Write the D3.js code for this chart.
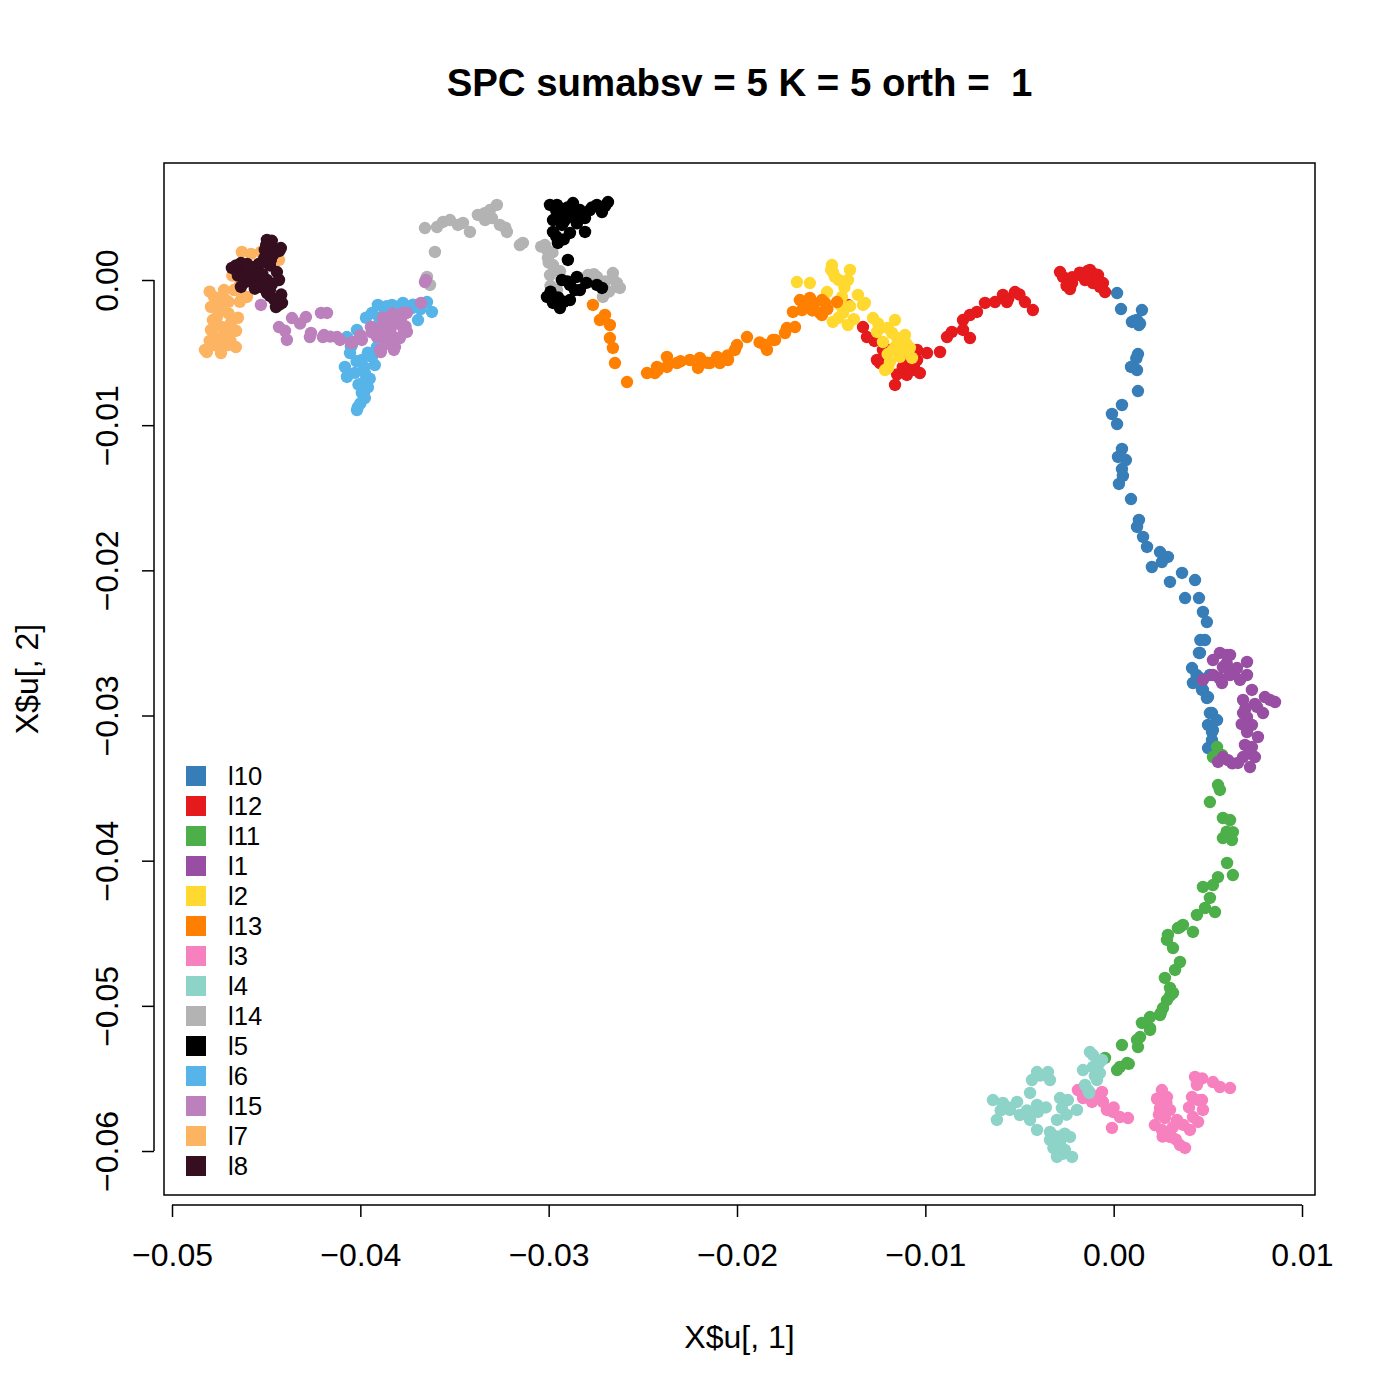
<!DOCTYPE html>
<html><head><meta charset="utf-8">
<script src="https://cdn.jsdelivr.net/npm/d3@7"></script>
<style>body{margin:0;background:#fff}text{font-family:"Liberation Sans",Arial,sans-serif;white-space:pre}</style>
</head><body><svg id="c" width="1400" height="1400"></svg>
<script>
const title = "SPC sumabsv = 5 K = 5 orth =  1";
const xLabel = "X$u[, 1]", yLabel = "X$u[, 2]";
const xTicks = [-0.05,-0.04,-0.03,-0.02,-0.01,0.00,0.01];
const yTicks = [0.00,-0.01,-0.02,-0.03,-0.04,-0.05,-0.06];
const legendNames = ["l10","l12","l11","l1","l2","l13","l3","l4","l14","l5","l6","l15","l7","l8"];
const legendColors = ["#377EB8","#E41A1C","#4DAF4A","#984EA3","#FFD92F","#FF7F00","#F781BF","#8DD3C7","#B3B3B3","#000000","#56B4E9","#BC80BD","#FDB462","#350F20"];

const l10 = [[0.00018,-0.00090],[0.00039,-0.00200],[0.00150,-0.00207],[0.00097,-0.00289],[0.00134,-0.00310],[0.00124,-0.00276],[0.00110,-0.00280],[0.00140,-0.00300],[0.00129,-0.00510],[0.00120,-0.00540],[0.00092,-0.00599],[0.00124,-0.00620],[0.00129,-0.00765],[0.00044,-0.00861],[-0.00009,-0.00923],[0.00018,-0.00992],[0.00044,-0.01164],[0.00023,-0.01219],[0.00065,-0.01240],[0.00044,-0.01302],[0.00049,-0.01350],[0.00028,-0.01405],[0.00092,-0.01509],[0.00134,-0.01653],[0.00124,-0.01701],[0.00156,-0.01770],[0.00177,-0.01839],[0.00203,-0.01977],[0.00288,-0.01908],[0.00256,-0.01943],[0.00246,-0.01874],[0.00299,-0.02080],[0.00363,-0.02018],[0.00432,-0.02067],[0.00379,-0.02191],[0.00453,-0.02191],[0.00474,-0.02287],[0.00495,-0.02356],[0.00485,-0.02480],[0.00460,-0.02480],[0.00453,-0.02569],[0.00458,-0.02569],[0.00416,-0.02673],[0.00421,-0.02776],[0.00440,-0.02720],[0.00458,-0.02742],[0.00511,-0.02721],[0.00474,-0.02824],[0.00469,-0.02824],[0.00495,-0.02880],[0.00501,-0.02873],[0.00522,-0.02983],[0.00511,-0.02983],[0.00501,-0.03065],[0.00549,-0.03031],[0.00527,-0.03100],[0.00522,-0.03114],[0.00522,-0.03169],[0.00501,-0.03224],[0.00522,-0.03217]];
const l12 = [[-0.00269,0.00021],[-0.00232,-0.00062],[-0.00179,0.00034],[-0.00180,0.00050],[-0.00140,0.00060],[-0.00100,0.00040],[-0.00220,0.00020],[-0.00250,-0.00040],[-0.00126,0.00069],[-0.00083,0.00034],[-0.00057,-0.00021],[-0.00046,-0.00083],[-0.00110,-0.00021],[-0.00152,0.00000],[-0.00221,-0.00021],[-0.00285,0.00055],[-0.00073,-0.00048],[-0.00429,-0.00207],[-0.00471,-0.00152],[-0.00500,-0.00100],[-0.00560,-0.00130],[-0.00524,-0.00083],[-0.00588,-0.00103],[-0.00630,-0.00152],[-0.00567,-0.00152],[-0.00683,-0.00158],[-0.00726,-0.00220],[-0.00800,-0.00276],[-0.00763,-0.00241],[-0.00859,-0.00358],[-0.00885,-0.00393],[-0.00763,-0.00400],[-0.00800,-0.00344],[-0.00922,-0.00496],[-0.00991,-0.00503],[-0.01044,-0.00482],[-0.01055,-0.00620],[-0.01098,-0.00654],[-0.01150,-0.00650],[-0.01120,-0.00600],[-0.01060,-0.00580],[-0.01161,-0.00723],[-0.01098,-0.00572],[-0.01241,-0.00572],[-0.01225,-0.00482],[-0.01200,-0.00480],[-0.01270,-0.00420],[-0.01310,-0.00393],[-0.01331,-0.00324],[-0.01411,-0.00172],[-0.01044,-0.00551],[-0.01029,-0.00641],[-0.01257,-0.00551]];
const l11 = [[0.00549,-0.03217],[0.00549,-0.03293],[0.00527,-0.03286],[0.00575,-0.03272],[0.00554,-0.03479],[0.00564,-0.03513],[0.00511,-0.03596],[0.00580,-0.03706],[0.00618,-0.03720],[0.00633,-0.03803],[0.00600,-0.03800],[0.00580,-0.03844],[0.00628,-0.03858],[0.00602,-0.04016],[0.00633,-0.04099],[0.00554,-0.04113],[0.00527,-0.04168],[0.00474,-0.04181],[0.00511,-0.04257],[0.00442,-0.04374],[0.00485,-0.04326],[0.00538,-0.04354],[0.00368,-0.04443],[0.00350,-0.04460],[0.00341,-0.04464],[0.00288,-0.04512],[0.00315,-0.04602],[0.00283,-0.04546],[0.00421,-0.04491],[0.00352,-0.04698],[0.00326,-0.04753],[0.00272,-0.04808],[0.00299,-0.04877],[0.00300,-0.04930],[0.00315,-0.04911],[0.00283,-0.04960],[0.00262,-0.05015],[0.00250,-0.05050],[0.00246,-0.05063],[0.00193,-0.05077],[0.00150,-0.05118],[0.00193,-0.05153],[0.00193,-0.05166],[0.00140,-0.05215],[0.00124,-0.05235],[0.00129,-0.05284],[0.00044,-0.05270],[0.00071,-0.05394],[0.00080,-0.05400],[0.00033,-0.05421],[0.00018,-0.05442],[-0.00046,-0.05359]];
const l1 = [[0.00564,-0.02569],[0.00618,-0.02583],[0.00602,-0.02583],[0.00527,-0.02618],[0.00600,-0.02640],[0.00580,-0.02666],[0.00708,-0.02631],[0.00655,-0.02673],[0.00640,-0.02700],[0.00527,-0.02721],[0.00618,-0.02721],[0.00708,-0.02721],[0.00560,-0.02740],[0.00575,-0.02776],[0.00474,-0.02755],[0.00671,-0.02755],[0.00734,-0.02824],[0.00687,-0.02893],[0.00687,-0.02983],[0.00750,-0.02920],[0.00700,-0.02950],[0.00761,-0.02941],[0.00830,-0.02893],[0.00857,-0.02907],[0.00803,-0.02873],[0.00793,-0.02983],[0.00708,-0.03011],[0.00680,-0.03060],[0.00734,-0.03065],[0.00708,-0.03114],[0.00766,-0.03148],[0.00734,-0.03217],[0.00697,-0.03203],[0.00720,-0.03260],[0.00750,-0.03286],[0.00687,-0.03286],[0.00660,-0.03327],[0.00630,-0.03330],[0.00724,-0.03355],[0.00580,-0.03286],[0.00554,-0.03320],[0.00607,-0.03307]];
const l2 = [[-0.01682,-0.00014],[-0.01613,-0.00021],[-0.01496,0.00103],[-0.01500,0.00070],[-0.01480,0.00021],[-0.01460,0.00000],[-0.01411,0.00000],[-0.01400,0.00069],[-0.01491,0.00055],[-0.01522,-0.00083],[-0.01430,-0.00050],[-0.01443,-0.00117],[-0.01358,-0.00103],[-0.01331,-0.00172],[-0.01321,-0.00158],[-0.01400,-0.00180],[-0.01453,-0.00172],[-0.01491,-0.00289],[-0.01460,-0.00260],[-0.01411,-0.00310],[-0.01380,-0.00270],[-0.01437,-0.00227],[-0.01278,-0.00262],[-0.01250,-0.00300],[-0.01161,-0.00276],[-0.01241,-0.00331],[-0.01200,-0.00330],[-0.01257,-0.00358],[-0.01177,-0.00365],[-0.01150,-0.00400],[-0.01225,-0.00427],[-0.01135,-0.00427],[-0.01130,-0.00470],[-0.01082,-0.00468],[-0.01100,-0.00440],[-0.01108,-0.00379],[-0.01071,-0.00537],[-0.01135,-0.00530],[-0.01160,-0.00460],[-0.01140,-0.00500],[-0.01200,-0.00510],[-0.01198,-0.00606],[-0.01188,-0.00565],[-0.01172,-0.00482],[-0.01108,-0.00496],[-0.01214,-0.00620]];
const l13 = [[-0.02765,-0.00172],[-0.02701,-0.00241],[-0.02728,-0.00276],[-0.02675,-0.00310],[-0.02675,-0.00400],[-0.02659,-0.00468],[-0.02648,-0.00572],[-0.02584,-0.00703],[-0.02478,-0.00641],[-0.02436,-0.00641],[-0.02420,-0.00620],[-0.02425,-0.00599],[-0.02372,-0.00530],[-0.02372,-0.00599],[-0.02319,-0.00572],[-0.02300,-0.00560],[-0.02250,-0.00551],[-0.02197,-0.00537],[-0.02207,-0.00606],[-0.02160,-0.00570],[-0.02144,-0.00572],[-0.02106,-0.00530],[-0.02091,-0.00572],[-0.02050,-0.00520],[-0.02048,-0.00551],[-0.02011,-0.00482],[-0.02000,-0.00448],[-0.01947,-0.00393],[-0.01880,-0.00430],[-0.01852,-0.00448],[-0.01841,-0.00482],[-0.01809,-0.00413],[-0.01798,-0.00413],[-0.01745,-0.00365],[-0.01735,-0.00331],[-0.01692,-0.00324],[-0.01703,-0.00220],[-0.01655,-0.00207],[-0.01640,-0.00180],[-0.01666,-0.00138],[-0.01629,-0.00158],[-0.01613,-0.00124],[-0.01590,-0.00160],[-0.01600,-0.00210],[-0.01560,-0.00227],[-0.01549,-0.00138],[-0.01549,-0.00241],[-0.01520,-0.00200],[-0.01533,-0.00158],[-0.01469,-0.00152]];
const l3 = [[-0.00190,-0.05580],[-0.00163,-0.05635],[-0.00126,-0.05600],[-0.00062,-0.05593],[-0.00115,-0.05662],[-0.00080,-0.05640],[-0.00057,-0.05662],[-0.00036,-0.05717],[0.00000,-0.05700],[-0.00004,-0.05731],[0.00033,-0.05766],[0.00076,-0.05773],[-0.00009,-0.05841],[0.00256,-0.05580],[0.00283,-0.05628],[0.00230,-0.05640],[0.00280,-0.05670],[0.00246,-0.05704],[0.00240,-0.05750],[0.00299,-0.05717],[0.00272,-0.05773],[0.00336,-0.05786],[0.00219,-0.05821],[0.00256,-0.05855],[0.00315,-0.05835],[0.00300,-0.05880],[0.00260,-0.05900],[0.00330,-0.05920],[0.00299,-0.05903],[0.00352,-0.05959],[0.00379,-0.05979],[0.00370,-0.05820],[0.00405,-0.05855],[0.00448,-0.05800],[0.00421,-0.05766],[0.00400,-0.05700],[0.00474,-0.05717],[0.00469,-0.05649],[0.00450,-0.05650],[0.00416,-0.05628],[0.00442,-0.05545],[0.00432,-0.05490],[0.00470,-0.05500],[0.00527,-0.05525],[0.00564,-0.05559],[0.00618,-0.05566]];
const l4 = [[-0.00110,-0.05339],[-0.00126,-0.05318],[-0.00080,-0.05400],[-0.00062,-0.05373],[-0.00110,-0.05421],[-0.00100,-0.05480],[-0.00073,-0.05463],[-0.00163,-0.05442],[-0.00089,-0.05511],[-0.00152,-0.05545],[-0.00130,-0.05600],[-0.00136,-0.05580],[-0.00407,-0.05456],[-0.00390,-0.05480],[-0.00349,-0.05456],[-0.00365,-0.05476],[-0.00338,-0.05511],[-0.00434,-0.05511],[-0.00444,-0.05600],[-0.00641,-0.05649],[-0.00600,-0.05720],[-0.00588,-0.05669],[-0.00560,-0.05700],[-0.00513,-0.05662],[-0.00551,-0.05717],[-0.00620,-0.05786],[-0.00498,-0.05752],[-0.00460,-0.05720],[-0.00407,-0.05683],[-0.00360,-0.05700],[-0.00402,-0.05731],[-0.00444,-0.05786],[-0.00407,-0.05855],[-0.00338,-0.05869],[-0.00285,-0.05635],[-0.00243,-0.05649],[-0.00275,-0.05704],[-0.00250,-0.05750],[-0.00195,-0.05717],[-0.00301,-0.05786],[-0.00300,-0.05900],[-0.00260,-0.05880],[-0.00338,-0.05924],[-0.00320,-0.05980],[-0.00285,-0.05945],[-0.00232,-0.05903],[-0.00270,-0.06020],[-0.00301,-0.06041],[-0.00221,-0.06041],[-0.00259,-0.05993]];
const l14 = [[-0.03657,0.00358],[-0.03593,0.00365],[-0.03561,0.00400],[-0.03524,0.00413],[-0.03482,0.00379],[-0.03455,0.00393],[-0.03418,0.00331],[-0.03376,0.00448],[-0.03340,0.00460],[-0.03338,0.00413],[-0.03312,0.00482],[-0.03275,0.00517],[-0.03301,0.00427],[-0.03259,0.00379],[-0.03230,0.00360],[-0.03222,0.00331],[-0.03153,0.00241],[-0.03604,0.00193],[-0.03646,0.00021],[-0.03630,-0.00034],[-0.03137,0.00255],[-0.03040,0.00230],[-0.03020,0.00241],[-0.03009,0.00207],[-0.02980,0.00190],[-0.03004,0.00152],[-0.03000,0.00120],[-0.02977,0.00103],[-0.02940,0.00060],[-0.02993,0.00034],[-0.02990,-0.00040],[-0.02956,-0.00069],[-0.02797,0.00014],[-0.02791,0.00034],[-0.02760,0.00040],[-0.02744,0.00021],[-0.02700,-0.00010],[-0.02659,0.00048],[-0.02660,0.00010],[-0.02637,-0.00048],[-0.02637,-0.00021],[-0.02680,-0.00080],[-0.02712,-0.00117],[-0.02622,-0.00055]];
const l5 = [[-0.02993,0.00517],[-0.02956,0.00517],[-0.02960,0.00480],[-0.02900,0.00500],[-0.02871,0.00530],[-0.02924,0.00462],[-0.02860,0.00460],[-0.02834,0.00482],[-0.02781,0.00482],[-0.02770,0.00500],[-0.02744,0.00517],[-0.02700,0.00510],[-0.02685,0.00537],[-0.02717,0.00468],[-0.02977,0.00413],[-0.02950,0.00440],[-0.02903,0.00427],[-0.02807,0.00427],[-0.02930,0.00379],[-0.02920,0.00400],[-0.02850,0.00390],[-0.02977,0.00331],[-0.02887,0.00324],[-0.02807,0.00331],[-0.02960,0.00300],[-0.02920,0.00280],[-0.02951,0.00255],[-0.02898,0.00138],[-0.02930,0.00000],[-0.02900,-0.00010],[-0.02850,0.00021],[-0.02800,-0.00020],[-0.02887,-0.00034],[-0.02834,-0.00069],[-0.02861,-0.00069],[-0.02744,-0.00034],[-0.02717,-0.00055],[-0.02990,-0.00080],[-0.03009,-0.00117],[-0.02950,-0.00120],[-0.02977,-0.00158],[-0.02920,-0.00150],[-0.02940,-0.00193],[-0.02887,-0.00138]];
const l6 = [[-0.03907,-0.00172],[-0.03860,-0.00180],[-0.03832,-0.00172],[-0.03774,-0.00158],[-0.03720,-0.00170],[-0.03680,-0.00200],[-0.03646,-0.00152],[-0.03620,-0.00220],[-0.03726,-0.00193],[-0.03694,-0.00276],[-0.03869,-0.00207],[-0.03900,-0.00260],[-0.03970,-0.00260],[-0.03938,-0.00227],[-0.04018,-0.00344],[-0.04000,-0.00400],[-0.04071,-0.00393],[-0.04045,-0.00448],[-0.04050,-0.00460],[-0.04055,-0.00503],[-0.03960,-0.00500],[-0.03912,-0.00462],[-0.04020,-0.00560],[-0.04082,-0.00599],[-0.03980,-0.00600],[-0.04030,-0.00640],[-0.04066,-0.00654],[-0.04071,-0.00668],[-0.03950,-0.00680],[-0.03992,-0.00551],[-0.03938,-0.00530],[-0.03923,-0.00586],[-0.03976,-0.00641],[-0.04010,-0.00720],[-0.03960,-0.00740],[-0.03986,-0.00710],[-0.03992,-0.00778],[-0.03981,-0.00778],[-0.03976,-0.00813],[-0.04000,-0.00850],[-0.04013,-0.00875],[-0.04018,-0.00896],[-0.03806,-0.00186]];
const l15 = [[-0.04528,-0.00172],[-0.04432,-0.00324],[-0.04400,-0.00350],[-0.04390,-0.00413],[-0.04363,-0.00262],[-0.04320,-0.00300],[-0.04289,-0.00255],[-0.04209,-0.00227],[-0.04177,-0.00227],[-0.04268,-0.00393],[-0.04262,-0.00365],[-0.04193,-0.00379],[-0.04199,-0.00393],[-0.04160,-0.00390],[-0.04124,-0.00393],[-0.04108,-0.00413],[-0.04050,-0.00434],[-0.04039,-0.00427],[-0.04000,-0.00380],[-0.03992,-0.00413],[-0.03940,-0.00360],[-0.03944,-0.00324],[-0.03939,-0.00324],[-0.03891,-0.00324],[-0.03870,-0.00360],[-0.03840,-0.00340],[-0.03912,-0.00393],[-0.03869,-0.00413],[-0.03860,-0.00440],[-0.03843,-0.00310],[-0.03880,-0.00260],[-0.03800,-0.00300],[-0.03822,-0.00393],[-0.03790,-0.00400],[-0.03816,-0.00276],[-0.03830,-0.00230],[-0.03784,-0.00276],[-0.03760,-0.00320],[-0.03774,-0.00227],[-0.03753,-0.00227],[-0.03769,-0.00344],[-0.03753,-0.00358],[-0.03816,-0.00462],[-0.03822,-0.00482],[-0.03891,-0.00496],[-0.03896,-0.00482],[-0.03678,-0.00158],[-0.03652,0.00000],[-0.03657,-0.00014]];
const l7 = [[-0.04629,0.00193],[-0.04580,0.00180],[-0.04528,0.00193],[-0.04432,0.00138],[-0.04639,-0.00034],[-0.04680,0.00030],[-0.04634,-0.00090],[-0.04724,-0.00069],[-0.04777,-0.00117],[-0.04740,-0.00120],[-0.04800,-0.00080],[-0.04700,-0.00150],[-0.04640,-0.00150],[-0.04793,-0.00186],[-0.04740,-0.00200],[-0.04700,-0.00230],[-0.04761,-0.00255],[-0.04650,-0.00260],[-0.04735,-0.00324],[-0.04760,-0.00320],[-0.04793,-0.00344],[-0.04660,-0.00350],[-0.04687,-0.00365],[-0.04720,-0.00380],[-0.04724,-0.00434],[-0.04690,-0.00420],[-0.04800,-0.00420],[-0.04770,-0.00450],[-0.04815,-0.00496],[-0.04740,-0.00503],[-0.04661,-0.00462],[-0.04602,-0.00117],[-0.04671,-0.00069],[-0.04751,-0.00172],[-0.04687,-0.00296],[-0.04825,-0.00482],[-0.04703,-0.00448],[-0.04783,-0.00276],[-0.04714,-0.00138],[-0.04767,-0.00400]];
const l8 = [[-0.04496,0.00276],[-0.04470,0.00270],[-0.04500,0.00240],[-0.04422,0.00220],[-0.04469,0.00207],[-0.04507,0.00207],[-0.04430,0.00200],[-0.04460,0.00180],[-0.04510,0.00150],[-0.04634,0.00117],[-0.04660,0.00100],[-0.04600,0.00110],[-0.04540,0.00110],[-0.04560,0.00090],[-0.04480,0.00100],[-0.04661,0.00069],[-0.04682,0.00083],[-0.04640,0.00060],[-0.04618,0.00000],[-0.04650,0.00030],[-0.04600,-0.00010],[-0.04634,-0.00048],[-0.04560,-0.00060],[-0.04528,0.00117],[-0.04475,0.00138],[-0.04520,0.00040],[-0.04443,0.00055],[-0.04496,0.00000],[-0.04432,0.00000],[-0.04470,-0.00030],[-0.04528,-0.00048],[-0.04496,-0.00090],[-0.04420,-0.00100],[-0.04480,-0.00110],[-0.04443,-0.00138],[-0.04460,-0.00130],[-0.04448,-0.00186],[-0.04430,-0.00170],[-0.04416,-0.00158],[-0.04576,0.00055],[-0.04554,0.00000],[-0.04597,0.00069],[-0.04480,-0.00069]];

const seriesData = {l10,l12,l11,l1,l2,l13,l3,l4,l14,l5,l6,l15,l7,l8};

const svg = d3.select("#c");
const x = d3.scaleLinear().domain([-0.050425, 0.010690]).range([164, 1315]);
const y = d3.scaleLinear().domain([0.008060, -0.063030]).range([163, 1195]);
const fmt = v => (v < 0 ? "\u2212" : "") + Math.abs(v).toFixed(2);

// points
legendNames.forEach((n, i) => {
  svg.append("g").selectAll("circle").data(seriesData[n]).join("circle")
    .attr("cx", d => x(d[0])).attr("cy", d => y(d[1])).attr("r", 6.2)
    .attr("fill", legendColors[i]);
});

// box
svg.append("rect").attr("x", 164).attr("y", 163).attr("width", 1151).attr("height", 1032)
  .attr("fill", "none").attr("stroke", "#000").attr("stroke-width", 1.5);

// x axis
const xa = svg.append("g").attr("transform", "translate(0,1205)")
  .call(d3.axisBottom(x).tickValues(xTicks).tickFormat(fmt).tickSize(12).tickPadding(26));
xa.select(".domain").attr("d", `M${x(xTicks[0])},0H${x(xTicks[xTicks.length-1])}`).attr("stroke-width", 1.5);
xa.selectAll(".tick line").attr("stroke-width", 1.5);
xa.selectAll("text").attr("font-size", 32).attr("font-family", "Liberation Sans, Arial, sans-serif").attr("fill", "#000");

// y axis
const ya = svg.append("g").attr("transform", "translate(154,0)")
  .call(d3.axisLeft(y).tickValues(yTicks).tickFormat(fmt).tickSize(12));
ya.select(".domain").attr("d", `M0,${y(yTicks[0])}V${y(yTicks[yTicks.length-1])}`).attr("stroke-width", 1.5);
ya.selectAll(".tick line").attr("stroke-width", 1.5);
ya.selectAll("text").attr("font-size", 32).attr("font-family", "Liberation Sans, Arial, sans-serif").attr("fill", "#000")
  .attr("text-anchor", "middle").attr("dy", null)
  .attr("transform", "rotate(-90)").attr("x", 0).attr("y", -47).attr("dominant-baseline", "central");

// title & labels
svg.append("text").attr("x", 739.5).attr("y", 96).attr("text-anchor", "middle")
  .attr("font-size", 38.4).attr("font-weight", "bold").attr("xml:space", "preserve").text(title);
svg.append("text").attr("x", 739.5).attr("y", 1348).attr("text-anchor", "middle")
  .attr("font-size", 32).text(xLabel);
svg.append("text").attr("transform", "translate(38,679) rotate(-90)").attr("text-anchor", "middle")
  .attr("font-size", 32).text(yLabel);

// legend
const lg = svg.append("g");
legendNames.forEach((n, i) => {
  const cy = 776 + i * 30;
  lg.append("rect").attr("x", 186).attr("y", cy - 10).attr("width", 20).attr("height", 20).attr("fill", legendColors[i]);
  lg.append("text").attr("x", 228).attr("y", cy).attr("dominant-baseline", "central")
    .attr("font-size", 25.6).text(n);
});
</script></body></html>
